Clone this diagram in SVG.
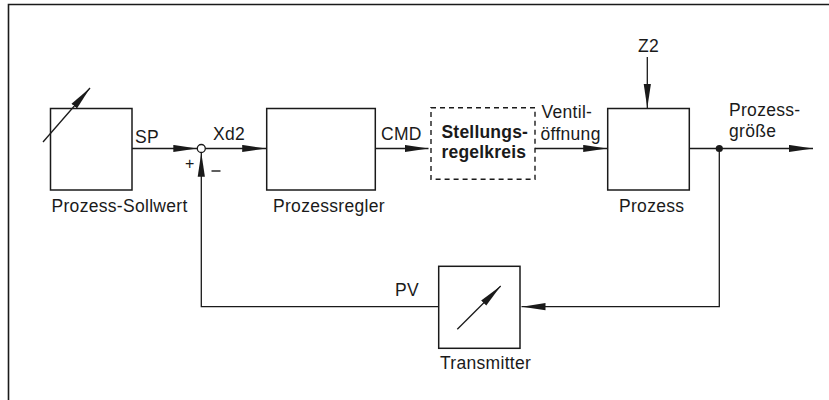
<svg xmlns="http://www.w3.org/2000/svg" width="829" height="400" viewBox="0 0 829 400">
  <style>
    .box { fill: none; stroke: #1a1a1a; stroke-width: 1.5; }
    .dash { fill: none; stroke: #1a1a1a; stroke-width: 1.4; stroke-dasharray: 5 4; }
    .wire { fill: none; stroke: #1a1a1a; stroke-width: 1.3; }
    .arrow { fill: none; stroke: #1a1a1a; stroke-width: 1.3; marker-end: url(#ah); }
    text { font-family: "Liberation Sans", Arial, Helvetica, sans-serif; font-size: 17.5px; fill: #1a1a1a; letter-spacing: 0.3px; }
    .b { font-weight: bold; letter-spacing: 0.2px; }
  </style>
  <defs>
    <marker id="ah" viewBox="0 0 24 8" refX="24" refY="4" markerWidth="24" markerHeight="8" markerUnits="userSpaceOnUse" orient="auto">
      <path d="M0,0.4 L24,4 L0,7.6 Z" fill="#1a1a1a"/>
    </marker>
  </defs>
  <rect width="829" height="400" fill="#ffffff"/>
  <g id="frame">
    <path d="M8.5,400 V4.5 H829" fill="none" stroke="#1a1a1a" stroke-width="1.6"/>
  </g>

  <g id="sollwert">
    <rect class="box" x="50.5" y="108.5" width="81.5" height="81.5"/>
    <line class="arrow" x1="43" y1="142" x2="90" y2="88"/>
    <text x="51.5" y="212">Prozess-Sollwert</text>
  </g>

  <g id="summe">
    <circle cx="201.3" cy="148.5" r="4" fill="#ffffff" stroke="#1a1a1a" stroke-width="1.3"/>
    <text x="185" y="169" style="font-size:16px">+</text>
    <line x1="211.5" y1="171" x2="220.5" y2="171" stroke="#1a1a1a" stroke-width="1.4"/>
  </g>

  <g id="regler">
    <rect class="box" x="266.7" y="108.5" width="108.6" height="81.5"/>
    <text x="273" y="212">Prozessregler</text>
  </g>

  <g id="stellungsregelkreis">
    <rect class="dash" x="431" y="107.7" width="104" height="71.6"/>
    <text class="b" x="441.5" y="137.7">Stellungs-</text>
    <text class="b" x="441.5" y="157.7">regelkreis</text>
  </g>

  <g id="prozess">
    <rect class="box" x="607.7" y="108.5" width="81.6" height="81.5"/>
    <text x="619" y="211.7">Prozess</text>
  </g>

  <g id="transmitter">
    <rect class="box" x="438.7" y="266.3" width="81.3" height="82"/>
    <line class="arrow" x1="457.3" y1="329.3" x2="500.7" y2="286"/>
    <text x="440" y="369.3">Transmitter</text>
  </g>

  <g id="connectors">
    <line class="arrow" x1="132" y1="148.5" x2="197.3" y2="148.5"/>
    <line class="arrow" x1="205.3" y1="148.5" x2="266.2" y2="148.5"/>
    <line class="arrow" x1="375.3" y1="148.5" x2="428.5" y2="148.5"/>
    <line class="arrow" x1="535" y1="148.5" x2="607.2" y2="148.5"/>
    <line class="arrow" x1="647.3" y1="57" x2="647.3" y2="108"/>
    <line class="arrow" x1="689.3" y1="148.5" x2="813" y2="148.5"/>
    <circle cx="719.3" cy="148.5" r="3.6" fill="#1a1a1a"/>
    <path class="arrow" d="M719.3,148.5 V306.7 H521.5"/>
    <path class="arrow" d="M438.7,306.7 H201.3 V152.7"/>
  </g>

  <g id="labels">
    <text x="135" y="143">SP</text>
    <text x="213" y="140">Xd2</text>
    <text x="381" y="140">CMD</text>
    <text x="541.5" y="118">Ventil-</text>
    <text x="540.5" y="140">öffnung</text>
    <text x="638" y="52">Z2</text>
    <text x="729" y="115.7">Prozess-</text>
    <text x="729" y="137">größe</text>
    <text x="395" y="295.7">PV</text>
  </g>
</svg>
